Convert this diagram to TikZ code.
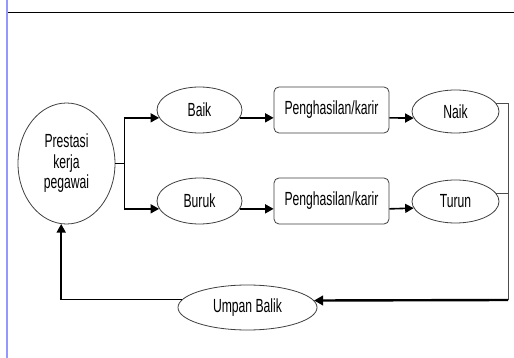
\documentclass[tikz,border=0pt]{standalone}
\usepackage{fontspec}
\setmainfont{Liberation Sans}[FakeStretch=0.64]
\usetikzlibrary{shapes.geometric,arrows.meta}
\begin{document}
\begin{tikzpicture}[x=1pt,y=-1pt,
  every node/.style={font=\fontsize{19}{20.5}\selectfont,inner sep=0pt},
  oval/.style={ellipse,draw=black!75,line width=0.8pt},
  rbox/.style={rectangle,rounded corners=5pt,draw=black!75,line width=0.8pt,minimum width=115pt,minimum height=46pt},
  conn/.style={line width=1.6pt,-{Triangle[length=8.5pt,width=9pt]}},
  thinline/.style={line width=0.8pt,draw=black!70},
  fbline/.style={line width=2.4pt,-{Triangle[length=9pt,width=9.5pt]}}]
\useasboundingbox (0,0) rectangle (514,358);
\fill[white] (0,0) rectangle (514,358);
\draw[line width=2pt,color={rgb,255:red,150;green,150;blue,255}] (7,0) -- (7,358);
\draw[line width=1pt] (8,12.5) -- (514,12.5);

\node[oval,minimum width=97pt,minimum height=121pt,align=center] (prestasi) at (66.5,163.5) {Prestasi\\kerja\\pegawai};
\node[oval,minimum width=85pt,minimum height=46pt] (baik) at (199.5,110) {Baik};
\node[oval,minimum width=85pt,minimum height=46pt] (buruk) at (199.5,201) {Buruk};
\node[rbox] (pk1) at (331.5,110) {Penghasilan/karir};
\node[rbox] (pk2) at (331.5,201) {Penghasilan/karir};
\node[oval,minimum width=87pt,minimum height=43pt] (naik) at (455.5,111.5) {Naik};
\node[oval,minimum width=87pt,minimum height=43pt] (turun) at (455.5,201.5) {Turun};
\node[oval,minimum width=139pt,minimum height=45pt] (umpan) at (247.5,307.5) {Umpan Balik};

\coordinate (fork) at (124.5,163.5);
\coordinate (rb) at (508,300);

\draw[line width=1.6pt] (prestasi.east) -- (fork);
\draw[conn] (fork) |- (baik.191);
\draw[conn] (fork) |- (buruk.191);
\draw[conn] (baik.-11) -- (pk1.west |- baik.-11);
\draw[conn] (buruk.-11) -- (pk2.west |- buruk.-11);
\draw[conn] (pk1.east |- baik.-11) -- (naik.189);
\draw[conn] (pk2.east |- buruk.-11) -- (turun.189);
\draw[thinline] (naik.11) -| (rb);
\draw[thinline] (turun.12) -- (turun.12 -| rb);
\draw[fbline] (rb) -- (umpan.6.5);
\draw[conn] (umpan.173.5) -| (prestasi.265);
\end{tikzpicture}
\end{document}
